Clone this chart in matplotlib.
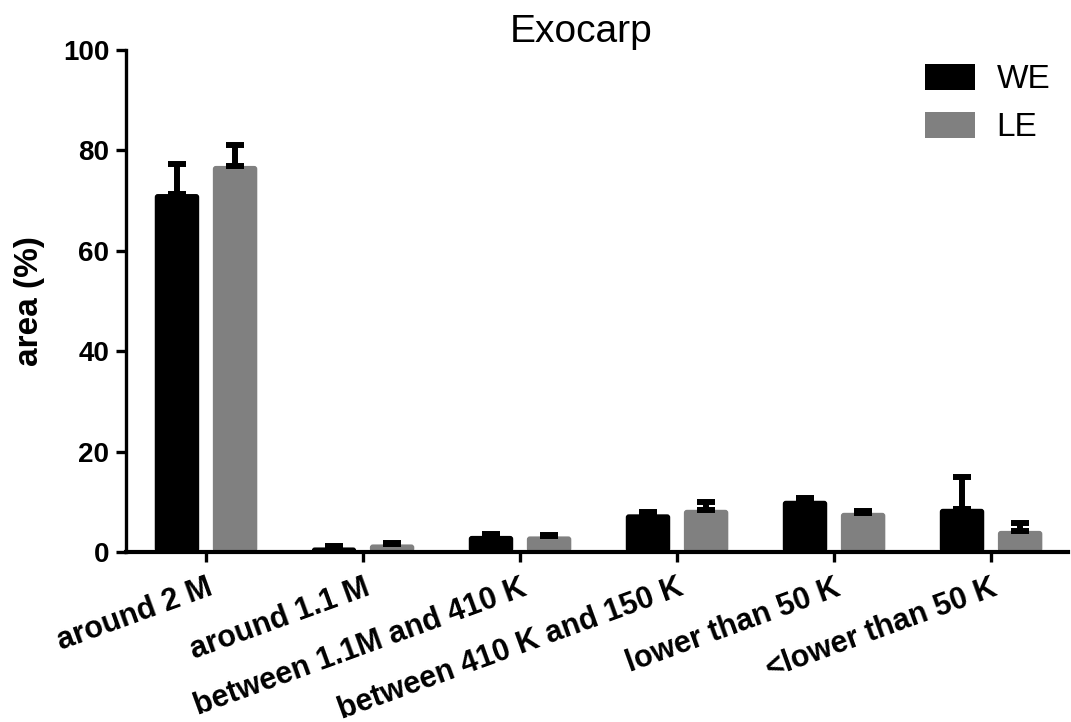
import matplotlib
matplotlib.use("Agg")
import matplotlib.pyplot as plt
from matplotlib.patches import FancyBboxPatch, Patch
import numpy as np

# values (mean and upper error, %)
categories = ['around 2 M', 'around 1.1 M', 'between 1.1M and 410 K',
              'between 410 K and 150 K', 'lower than 50 K', '<lower than 50 K']
we_mean = [71.3, 0.9, 3.2, 7.5, 10.2, 8.6]
we_err = [6.0, 0.3, 0.4, 0.5, 0.6, 6.4]
le_mean = [76.9, 1.5, 3.1, 8.4, 7.8, 4.2]
le_err = [4.2, 0.3, 0.3, 1.6, 0.3, 1.5]
series_names = ['WE', 'LE']

plt.rcParams['font.family'] = ['Liberation Sans', 'DejaVu Sans']

fig = plt.figure(figsize=(10.71, 7.22), dpi=100)
ax = fig.add_axes([0.1176, 0.2355, 0.8796, 0.6953])

x = np.arange(len(categories))
width = 0.283
offset = 0.185
xlim = (-0.51, 5.49)
ylim = (0, 100)
ax.set_xlim(*xlim)
ax.set_ylim(*ylim)

# rounded bar corners: radius ~3 px, aspect from data units per pixel
ax_w_px = 0.8796 * 1071
ax_h_px = 0.6953 * 722
x_per_px = (xlim[1] - xlim[0]) / ax_w_px
y_per_px = (ylim[1] - ylim[0]) / ax_h_px
radius = 3 * x_per_px
aspect = y_per_px / x_per_px

colors = ['#000000', '#808080']
for means, errs, off, col in [(we_mean, we_err, -offset, colors[0]),
                              (le_mean, le_err, offset, colors[1])]:
    for xi, m in zip(x + off, means):
        p = FancyBboxPatch((xi - width / 2, 0), width, m,
                           boxstyle=f"round,pad=0,rounding_size={radius}",
                           mutation_aspect=aspect, facecolor=col,
                           edgecolor='none', zorder=2)
        ax.add_patch(p)
    ax.errorbar(x + off, means, yerr=[np.zeros(len(errs)), errs], fmt='none',
                ecolor='black', elinewidth=4.3, capsize=6.8, capthick=4.3, zorder=3)

ax.set_yticks([0, 20, 40, 60, 80, 100])
ax.set_xticks(x)
ax.set_xticklabels(categories, rotation=20, ha='right', rotation_mode='anchor',
                   fontsize=22, fontweight='bold')
for lbl in ax.get_yticklabels():
    lbl.set_fontsize(20)
    lbl.set_fontweight('bold')

ax.spines['top'].set_visible(False)
ax.spines['right'].set_visible(False)
ax.spines['left'].set_linewidth(2.4)
ax.spines['bottom'].set_linewidth(3)
ax.spines['bottom'].set_zorder(4)
ax.tick_params(axis='both', direction='out', length=7, width=2.4, color='black')
ax.tick_params(axis='y', pad=5)
ax.tick_params(axis='x', pad=8)

ax.set_ylabel('area (%)', fontsize=24, fontweight='bold', labelpad=13)
ax.set_title('Exocarp', fontsize=28, pad=6, x=0.483)

handles = [Patch(facecolor=colors[0]), Patch(facecolor=colors[1])]
ax.legend(handles, series_names, loc='upper left',
          bbox_to_anchor=(925 / 1071, 1 - 64 / 722),
          bbox_transform=fig.transFigure, frameon=False, fontsize=24,
          handlelength=1.5, handleheight=0.8, handletextpad=0.65,
          labelspacing=0.5, borderpad=0, borderaxespad=0)

plt.savefig('out.png', dpi=100)
plt.close()
